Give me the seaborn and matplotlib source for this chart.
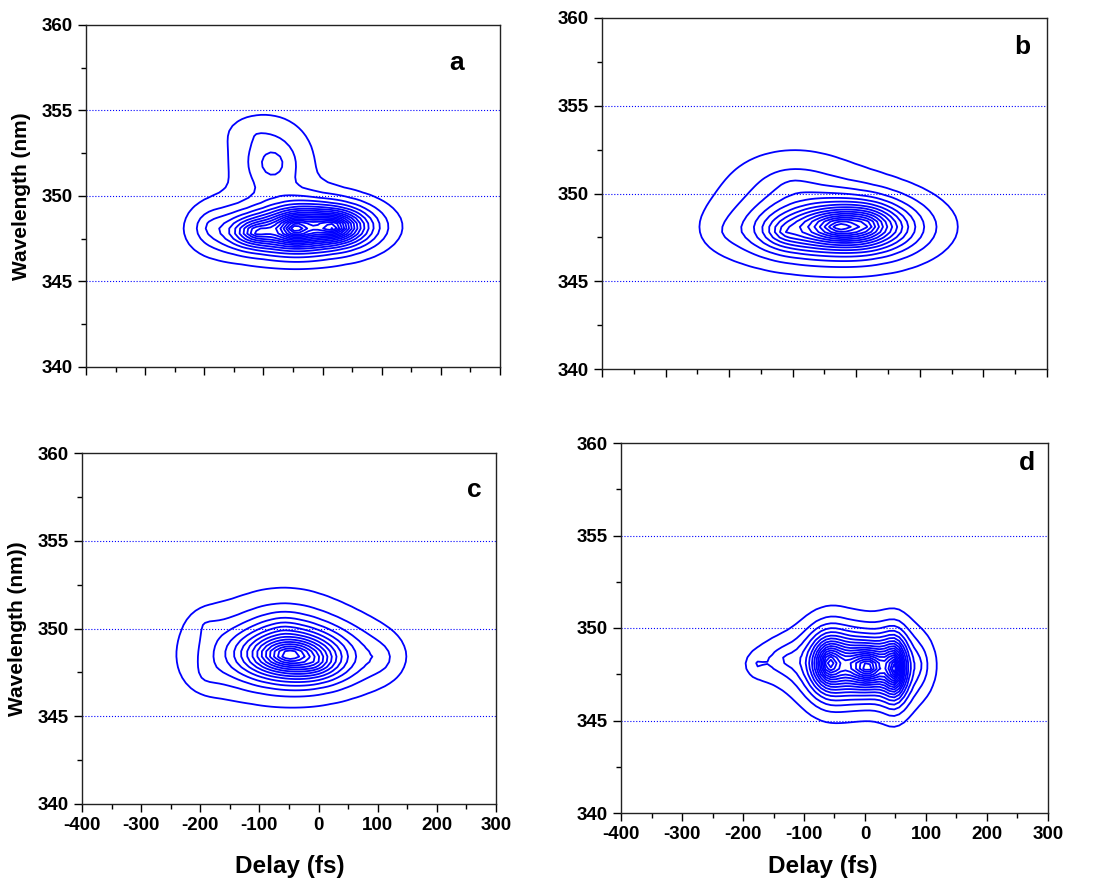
import numpy as np
import matplotlib
matplotlib.use("Agg")
import matplotlib.pyplot as plt
import seaborn as sns
from matplotlib.ticker import MultipleLocator

sns.set_style("ticks")
plt.rcParams["font.family"] = ["Liberation Sans", "DejaVu Sans"]
plt.rcParams["font.weight"] = "bold"
plt.rcParams["axes.unicode_minus"] = False
plt.rcParams["text.color"] = "black"
plt.rcParams["axes.labelcolor"] = "black"
plt.rcParams["xtick.color"] = "black"
plt.rcParams["ytick.color"] = "black"

# ---- axis ranges / ticks ----
delay_range = [-400, 300]
wl_range = [340, 360]
guide_lines = [345, 350, 355]
panel_letters = ["a", "b", "c", "d"]
y_labels = ["Wavelength (nm)", None, "Wavelength (nm))", None]

# ---- FROG trace components ----
# per component: delay centre (fs), wavelength centre (nm), delay width,
# wavelength width, amplitude
a_t0 = [-112, -46, 18, -190, -85, -120]
a_w0 = [347.9, 348.1, 348.2, 348.2, 351.9, 353.8]
a_st = [48, 36, 52, 38, 55, 50]
a_sw = [0.9, 0.9, 0.95, 1.3, 1.9, 1.0]
a_amp = [0.6, 0.75, 1.0, 0.12, 0.22, 0.05]

b_t0 = [-26, -112, 18, -100, -200, 60]
b_w0 = [348.1, 347.8, 348.2, 350.5, 347.8, 348.0]
b_st = [76, 45, 38, 90, 50, 58]
b_sw = [1.2, 1.0, 1.0, 1.9, 1.3, 1.3]
b_amp = [1.0, 0.25, 0.25, 0.15, 0.06, 0.1]

c_t0 = [-50, -5, -60, 105, -190, -190]
c_w0 = [348.5, 348.0, 350.0, 348.3, 350.2, 347.3]
c_st = [78, 45, 75, 30, 32, 32]
c_sw = [1.25, 0.9, 1.9, 1.0, 1.0, 1.0]
c_amp = [1.0, 0.2, 0.15, 0.08, 0.06, 0.06]

d_t0 = [-59, 5, 49, -20, -177, -130, 90]
d_w0 = [348.1, 347.9, 347.8, 348.0, 348.0, 348.3, 348.0]
d_st = [25, 38, 15, 70, 18, 38, 18]
d_sw = [1.3, 1.15, 1.3, 1.4, 0.6, 1.0, 1.3]
d_amp = [0.85, 1.0, 0.85, 0.3, 0.09, 0.15, 0.1]

shape_power = 1.3
n_levels = [17, 16, 15, 17]

panels = [
    (a_t0, a_w0, a_st, a_sw, a_amp),
    (b_t0, b_w0, b_st, b_sw, b_amp),
    (c_t0, c_w0, c_st, c_sw, c_amp),
    (d_t0, d_w0, d_st, d_sw, d_amp),
]

# axes boxes in pixels: x0, x1, y0, y1 (from top)
W, H = 1108, 884
boxes = [(86, 500, 25, 367), (602, 1047, 18, 369),
         (82, 496, 453, 804), (621, 1048, 443, 813)]
letter_pos = [(0.896, 0.89), (0.944, 0.917), (0.947, 0.895), (0.951, 0.946)]
xlabel_px = [None, None, (290, 867), (823, 867)]

t = np.arange(-400, 301, 8.0)
w = np.arange(340, 360.01, 0.3)
T, WL = np.meshgrid(t, w)

fig = plt.figure(figsize=(W / 100, H / 100), dpi=100)
for i, ((t0, w0, st, sw, amp), (x0, x1, y0, y1)) in enumerate(zip(panels, boxes)):
    ax = fig.add_axes([x0 / W, 1 - y1 / H, (x1 - x0) / W, (y1 - y0) / H])
    Z = np.zeros_like(T)
    for a, b, c, d, e in zip(t0, w0, st, sw, amp):
        r = np.sqrt(((T - a) / c) ** 2 + ((WL - b) / d) ** 2)
        Z += e * np.exp(-r ** shape_power)
    zmax = Z.max()
    levels = np.linspace(0.05, 0.93, n_levels[i]) * zmax
    ax.contour(T, WL, Z, levels=levels, colors="#0000ff", linewidths=1.3)
    for g in guide_lines:
        ax.axhline(g, color="#0000ff", lw=0.8, ls=":")
    ax.set_xlim(delay_range)
    ax.set_ylim(wl_range)
    ax.xaxis.set_major_locator(MultipleLocator(100))
    ax.xaxis.set_minor_locator(MultipleLocator(50))
    ax.yaxis.set_major_locator(MultipleLocator(5))
    ax.yaxis.set_minor_locator(MultipleLocator(2.5))
    ax.tick_params(which="major", direction="out", length=6, width=1, labelsize=13.5)
    ax.tick_params(which="minor", direction="out", length=3.5, width=1)
    for s in ax.spines.values():
        s.set_linewidth(1.0)
        s.set_color("#222222")
    if i < 2:
        ax.set_xticklabels([])
    if xlabel_px[i]:
        fig.text(xlabel_px[i][0] / W, 1 - xlabel_px[i][1] / H, "Delay (fs)",
                 fontsize=17.5, fontweight="bold", ha="center", va="center")
    if y_labels[i]:
        ax.set_ylabel(y_labels[i], fontsize=15, fontweight="bold", labelpad=8)
    ax.text(letter_pos[i][0], letter_pos[i][1], panel_letters[i], transform=ax.transAxes,
            fontsize=19, fontweight="bold", ha="center", va="center")

fig.savefig("out.png", dpi=100)
